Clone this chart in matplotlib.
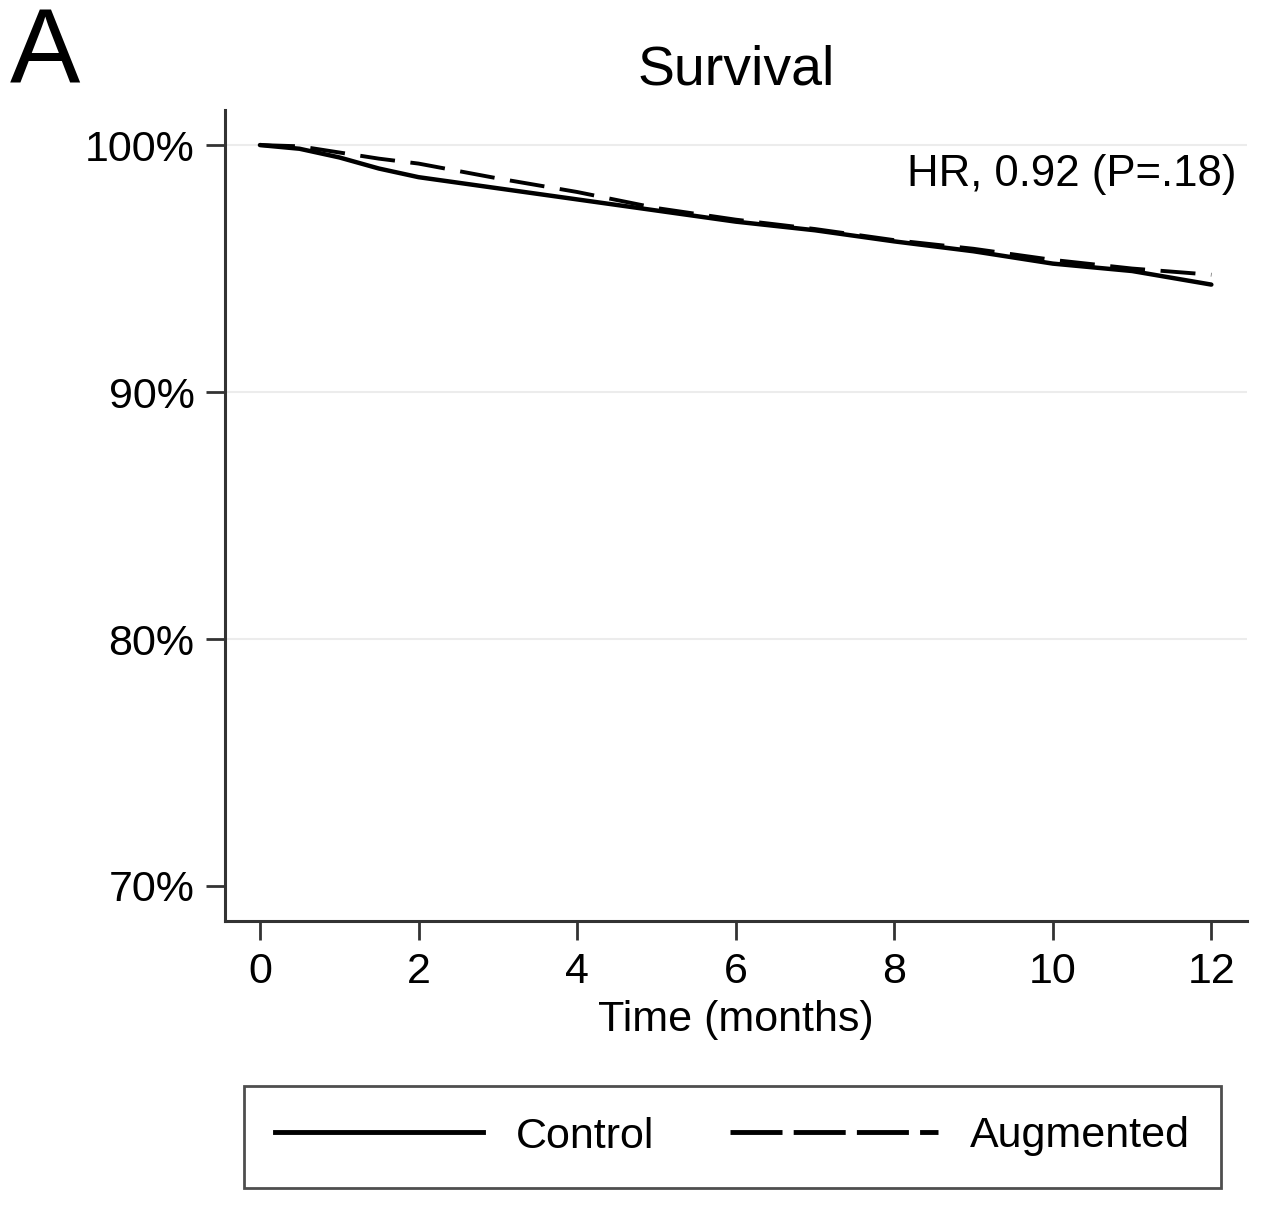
import matplotlib
matplotlib.use("Agg")
import matplotlib.pyplot as plt
from matplotlib.lines import Line2D

plt.rcParams['font.family'] = ['Liberation Sans', 'DejaVu Sans']

# Kaplan-Meier survival estimates
months = [0, 0.5, 1, 1.5, 2, 3, 4, 5, 6, 7, 8, 9, 10, 11, 12]
control = [100, 99.85, 99.5, 99.05, 98.7, 98.25, 97.8, 97.35, 96.9, 96.55, 96.1, 95.7, 95.2, 94.9, 94.35]
augmented = [100, 99.95, 99.7, 99.45, 99.25, 98.65, 98.1, 97.45, 96.98, 96.6, 96.15, 95.8, 95.35, 95.0, 94.75]

x_ticks = [0, 2, 4, 6, 8, 10, 12]
y_ticks = [70, 80, 90, 100]
y_labels = ['70%', '80%', '90%', '100%']

fig = plt.figure(figsize=(12.86, 12.14), dpi=100)
ax = fig.add_axes([0.175, 0.2413, 0.7947, 0.6681])

# light grid lines
for g in [80, 90, 100]:
    ax.axhline(g, color='#ececec', lw=1.5, zorder=0)

ax.plot(months, control, color='black', lw=3.2, solid_capstyle='round')
ax.plot(months, augmented, color='black', lw=2.8, linestyle=(0, (9, 4)))

ax.set_xlim(-0.44, 12.45)
ax.set_ylim(68.58, 101.42)
ax.set_xticks(x_ticks)
ax.set_yticks(y_ticks)
ax.set_yticklabels(y_labels)

for s in ['top', 'right']:
    ax.spines[s].set_visible(False)
for s in ['left', 'bottom']:
    ax.spines[s].set_linewidth(2.2)
    ax.spines[s].set_color('#333333')
ax.tick_params(axis='both', length=14, width=2, color='#333333',
               labelsize=31, pad=8)

ax.set_xlabel('Time (months)', fontsize=31, labelpad=6)
ax.set_title('Survival', fontsize=40, pad=18)
ax.text(0.99, 0.92, 'HR, 0.92 (P=.18)', transform=ax.transAxes,
        ha='right', va='center', fontsize=31.5)

fig.text(0.008, 0.955, 'A', fontsize=76, va='center', ha='left')

handles = [Line2D([], [], color='black', lw=3.5),
           Line2D([], [], color='black', lw=3.5, linestyle=(0, (10.7, 2.3)))]
leg = fig.legend(handles, ['Control', 'Augmented'], ncol=2, loc='center',
                 bbox_to_anchor=(732.5 / 1286, (1214 - 1136.5) / 1214),
                 fontsize=31, frameon=True, fancybox=False,
                 handlelength=4.83, handletextpad=0.75,
                 columnspacing=1.76, borderpad=0.72)
leg.get_frame().set_edgecolor('#222222')
leg.get_frame().set_linewidth(2)

fig.savefig('out.png', dpi=100)
